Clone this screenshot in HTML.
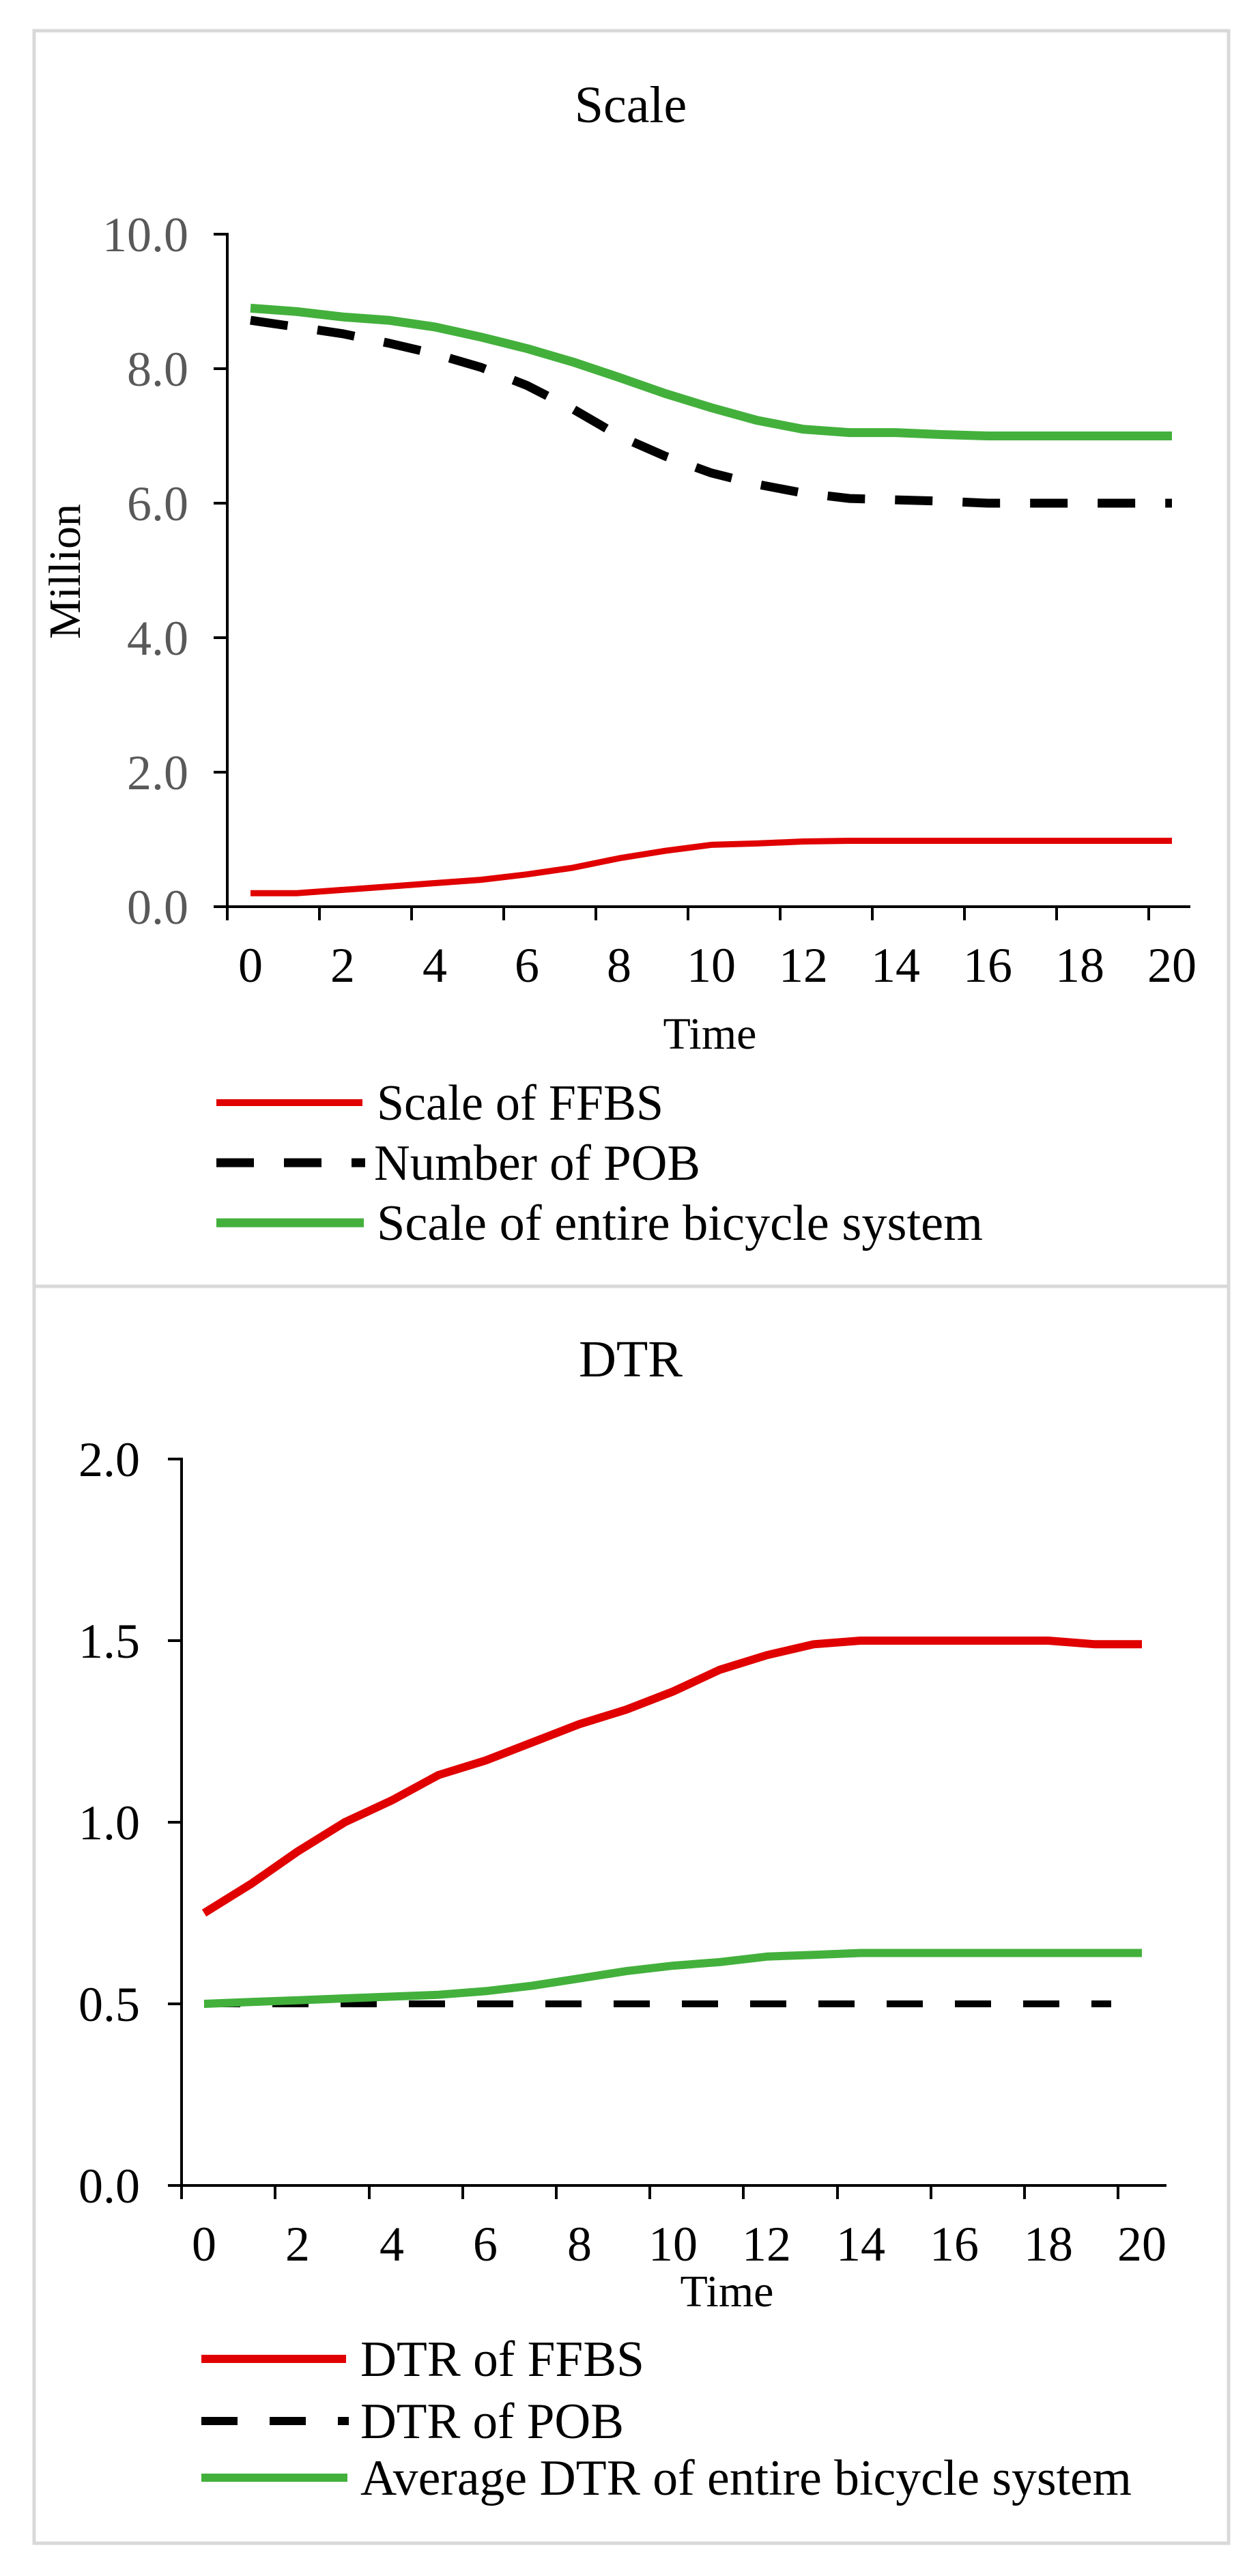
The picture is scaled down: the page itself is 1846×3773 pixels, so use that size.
<!DOCTYPE html>
<html><head><meta charset="utf-8"><style>html,body{margin:0;padding:0;background:#fff}svg{display:block}</style></head>
<body>
<svg width="1846" height="3773" viewBox="0 0 1846 3773" xmlns="http://www.w3.org/2000/svg" font-family="'Liberation Serif', serif">
<rect x="0" y="0" width="1846" height="3773" fill="#fff"/>
<rect x="50" y="45" width="1750" height="3680" fill="none" stroke="#d9d9d9" stroke-width="5"/>
<line x1="50" y1="1884" x2="1800" y2="1884" stroke="#d9d9d9" stroke-width="5"/>

<!-- TOP CHART -->
<text x="924" y="179" font-size="76" text-anchor="middle">Scale</text>
<g stroke="#000" stroke-width="4" fill="none">
<line x1="333" y1="341" x2="333" y2="1328"/>
<line x1="333" y1="1328" x2="1744" y2="1328"/>
<line x1="313" y1="343" x2="333" y2="343"/>
<line x1="313" y1="540" x2="333" y2="540"/>
<line x1="313" y1="737" x2="333" y2="737"/>
<line x1="313" y1="934" x2="333" y2="934"/>
<line x1="313" y1="1131" x2="333" y2="1131"/>
<line x1="313" y1="1328" x2="333" y2="1328"/>
<line x1="333" y1="1328" x2="333" y2="1348"/><line x1="468" y1="1328" x2="468" y2="1348"/><line x1="603" y1="1328" x2="603" y2="1348"/><line x1="738" y1="1328" x2="738" y2="1348"/><line x1="873" y1="1328" x2="873" y2="1348"/><line x1="1008" y1="1328" x2="1008" y2="1348"/><line x1="1143" y1="1328" x2="1143" y2="1348"/><line x1="1278" y1="1328" x2="1278" y2="1348"/><line x1="1413" y1="1328" x2="1413" y2="1348"/><line x1="1548" y1="1328" x2="1548" y2="1348"/><line x1="1683" y1="1328" x2="1683" y2="1348"/>
</g>
<g font-size="72" fill="#595959" text-anchor="end">
<text x="276" y="368">10.0</text><text x="276" y="565">8.0</text><text x="276" y="762">6.0</text><text x="276" y="959">4.0</text><text x="276" y="1156">2.0</text><text x="276" y="1353">0.0</text>
</g>
<g font-size="72" fill="#000" text-anchor="middle">
<text x="367" y="1438">0</text><text x="502" y="1438">2</text><text x="637" y="1438">4</text><text x="772" y="1438">6</text><text x="907" y="1438">8</text><text x="1042" y="1438">10</text><text x="1177" y="1438">12</text><text x="1312" y="1438">14</text><text x="1447" y="1438">16</text><text x="1582" y="1438">18</text><text x="1717" y="1438">20</text>
</g>
<text x="1040" y="1536" font-size="66" text-anchor="middle">Time</text>
<text transform="translate(117,837) rotate(-90)" font-size="66" text-anchor="middle">Million</text>

<polyline fill="none" stroke="#e00000" stroke-width="9" stroke-linejoin="round" points="367,1308.3 434.5,1308.3 502,1303.4 569.5,1298.5 637,1293.5 704.5,1288.6 772,1280.7 839.5,1270.9 907,1257.1 974.5,1246.2 1042,1237.4 1109.5,1235.4 1177,1232.5 1244.5,1231.5 1717,1231.5"/>
<polyline fill="none" stroke="#000" stroke-width="13" stroke-dasharray="55,44" points="367,469.1 434.5,478.9 502,488.8 569.5,502.6 637,518.3 704.5,538 772,564.6 839.5,599.1 907,638.5 974.5,668.1 1042,692.7 1109.5,709.4 1177,722.2 1244.5,730.1 1312,732.1 1379.5,734 1447,737 1717,737"/>
<polyline fill="none" stroke="#43b03c" stroke-width="13" stroke-linejoin="round" points="367,451.4 434.5,456.3 502,464.2 569.5,469.1 637,478.9 704.5,493.7 772,510.5 839.5,530.2 907,552.8 974.5,576.4 1042,597.1 1109.5,615.8 1177,628.7 1244.5,633.6 1312,633.6 1379.5,636.5 1447,638.5 1717,638.5"/>

<line x1="317" y1="1615" x2="531" y2="1615" stroke="#e00000" stroke-width="10"/>
<line x1="317" y1="1703" x2="535" y2="1703" stroke="#000" stroke-width="13" stroke-dasharray="55,44"/>
<line x1="317" y1="1791" x2="533" y2="1791" stroke="#43b03c" stroke-width="13"/>
<g font-size="74" fill="#000">
<text x="552" y="1640" textLength="420" lengthAdjust="spacingAndGlyphs">Scale of FFBS</text>
<text x="548" y="1728" textLength="478" lengthAdjust="spacingAndGlyphs">Number of POB</text>
<text x="552" y="1816" textLength="888" lengthAdjust="spacingAndGlyphs">Scale of entire  bicycle system</text>
</g>

<!-- BOTTOM CHART -->
<text x="924" y="2016" font-size="76" text-anchor="middle">DTR</text>
<g stroke="#000" stroke-width="4" fill="none">
<line x1="266" y1="2135" x2="266" y2="3201"/>
<line x1="266" y1="3201" x2="1709" y2="3201"/>
<line x1="246" y1="2137" x2="266" y2="2137"/>
<line x1="246" y1="2403" x2="266" y2="2403"/>
<line x1="246" y1="2669" x2="266" y2="2669"/>
<line x1="246" y1="2935" x2="266" y2="2935"/>
<line x1="246" y1="3201" x2="266" y2="3201"/>
<line x1="266" y1="3201" x2="266" y2="3221"/><line x1="403" y1="3201" x2="403" y2="3221"/><line x1="541" y1="3201" x2="541" y2="3221"/><line x1="678" y1="3201" x2="678" y2="3221"/><line x1="815" y1="3201" x2="815" y2="3221"/><line x1="952" y1="3201" x2="952" y2="3221"/><line x1="1089" y1="3201" x2="1089" y2="3221"/><line x1="1227" y1="3201" x2="1227" y2="3221"/><line x1="1364" y1="3201" x2="1364" y2="3221"/><line x1="1501" y1="3201" x2="1501" y2="3221"/><line x1="1638" y1="3201" x2="1638" y2="3221"/>
</g>
<g font-size="72" fill="#000" text-anchor="end">
<text x="205" y="2162">2.0</text><text x="205" y="2428">1.5</text><text x="205" y="2694">1.0</text><text x="205" y="2960">0.5</text><text x="205" y="3226">0.0</text>
</g>
<g font-size="72" fill="#000" text-anchor="middle">
<text x="299" y="3311">0</text><text x="436" y="3311">2</text><text x="574" y="3311">4</text><text x="711" y="3311">6</text><text x="849" y="3311">8</text><text x="986" y="3311">10</text><text x="1123" y="3311">12</text><text x="1261" y="3311">14</text><text x="1398" y="3311">16</text><text x="1536" y="3311">18</text><text x="1673" y="3311">20</text>
</g>
<text x="1065" y="3378" font-size="66" text-anchor="middle">Time</text>

<polyline fill="none" stroke="#000" stroke-width="10" stroke-dasharray="53,47" points="299,2935 1628,2935"/>
<polyline fill="none" stroke="#43b03c" stroke-width="12" stroke-linejoin="round" points="299,2935 367.7,2932.3 436.4,2929.7 505.1,2927 573.8,2924.4 642.5,2921.7 711.2,2916.4 779.9,2908.4 848.6,2897.8 917.3,2887.1 986,2879.1 1054.7,2873.8 1123.4,2865.8 1192.1,2863.2 1260.8,2860.5 1673,2860.5"/>
<polyline fill="none" stroke="#e00000" stroke-width="12" stroke-linejoin="round" points="299,2802 367.7,2759.4 436.4,2711.6 505.1,2669 573.8,2637.1 642.5,2599.8 711.2,2578.6 779.9,2552 848.6,2525.4 917.3,2504.1 986,2477.5 1054.7,2445.6 1123.4,2424.3 1192.1,2408.3 1260.8,2403 1535.6,2403 1604.3,2408.3 1673,2408.3"/>

<line x1="295" y1="3455" x2="507" y2="3455" stroke="#e00000" stroke-width="12"/>
<line x1="295" y1="3546" x2="511" y2="3546" stroke="#000" stroke-width="12" stroke-dasharray="53,47"/>
<line x1="295" y1="3629" x2="509" y2="3629" stroke="#43b03c" stroke-width="12"/>
<g font-size="74" fill="#000">
<text x="528" y="3480" textLength="416" lengthAdjust="spacingAndGlyphs">DTR of FFBS</text>
<text x="528" y="3571" textLength="386" lengthAdjust="spacingAndGlyphs">DTR of POB</text>
<text x="528" y="3654" textLength="1130" lengthAdjust="spacingAndGlyphs">Average DTR of entire bicycle system</text>
</g>
</svg>
</body></html>
